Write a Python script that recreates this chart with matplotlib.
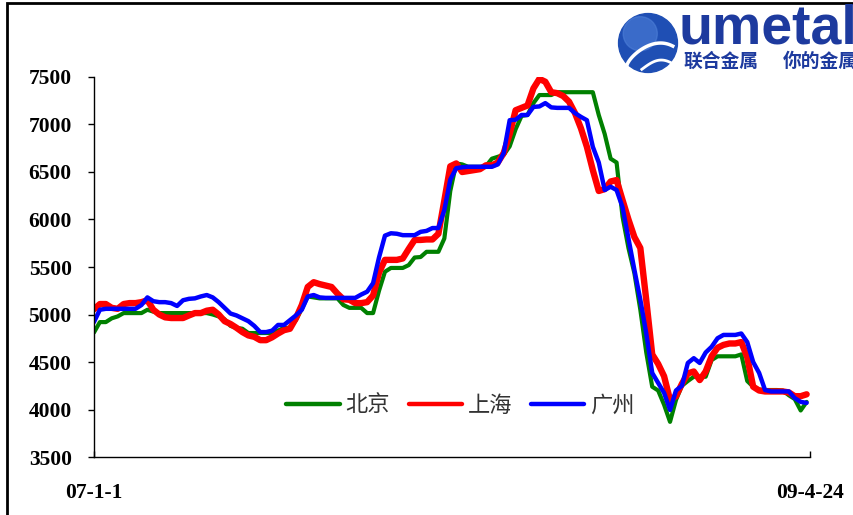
import numpy as np
import pandas as pd
import matplotlib
matplotlib.use("Agg")
import matplotlib.pyplot as plt
from matplotlib.patches import Rectangle, Circle

# weekly closing prices, 2007-01-01 .. 2009-04-20
beijing = [4810, 4920, 4920, 4960, 4980, 5015, 5015, 5015, 5015, 5050,
           5030, 5015, 5015, 5015, 5015, 5015, 5015, 5015, 5015, 5015,
           5000, 4980, 4950, 4880, 4860, 4850, 4805, 4805, 4805, 4805,
           4805, 4830, 4860, 4860, 4940, 5060, 5190, 5180, 5170, 5170,
           5170, 5170, 5100, 5070, 5070, 5070, 5015, 5015, 5250, 5450,
           5490, 5490, 5490, 5520, 5600, 5605, 5660, 5660, 5660, 5800,
           6300, 6590, 6580, 6555, 6555, 6555, 6560, 6640, 6660, 6680,
           6770, 6950, 7090, 7100, 7225, 7310, 7310, 7310, 7340, 7340,
           7340, 7340, 7340, 7340, 7340, 7100, 6900, 6640, 6600, 6030,
           5700, 5435, 5050, 4600, 4240, 4200, 4050, 3870, 4100, 4250,
           4300, 4345, 4345, 4345, 4520, 4560, 4560, 4560, 4560, 4580,
           4300, 4240, 4210, 4205, 4205, 4205, 4200, 4150, 4110, 3990,
           4080]
shanghai = [5055, 5110, 5110, 5070, 5060, 5110, 5120, 5120, 5130, 5150,
            5050, 5000, 4970, 4963, 4963, 4963, 4990, 5015, 5015, 5040,
            5050, 5000, 4930, 4900, 4860, 4815, 4780, 4765, 4730, 4730,
            4760, 4800, 4835, 4850, 4960, 5100, 5290, 5340, 5320, 5305,
            5290, 5220, 5160, 5155, 5120, 5120, 5130, 5200, 5440, 5575,
            5575, 5575, 5590, 5690, 5785, 5785, 5790, 5790, 5850, 6200,
            6560, 6590, 6500, 6510, 6520, 6530, 6570, 6570, 6600, 6700,
            6900, 7150, 7175, 7200, 7380, 7480, 7450, 7340, 7330, 7300,
            7240, 7120, 6960, 6765, 6520, 6300, 6320, 6400, 6415, 6205,
            6000, 5815, 5700, 5150, 4580, 4480, 4350, 4100, 4140, 4270,
            4380, 4400, 4310, 4400, 4560, 4650, 4680, 4695, 4695, 4710,
            4550, 4240, 4200, 4190, 4190, 4190, 4190, 4180, 4140, 4140,
            4160]
guangzhou = [4920, 5050, 5060, 5060, 5060, 5060, 5060, 5060, 5100, 5180,
             5140, 5130, 5130, 5120, 5090, 5150, 5165, 5170, 5190, 5205,
             5180, 5130, 5070, 5010, 4990, 4960, 4930, 4880, 4815, 4815,
             4830, 4890, 4890, 4940, 4990, 5050, 5190, 5205, 5180, 5175,
             5175, 5175, 5175, 5175, 5175, 5210, 5240, 5330, 5600, 5830,
             5855, 5850, 5835, 5835, 5835, 5870, 5880, 5910, 5910, 6100,
             6420, 6540, 6550, 6555, 6555, 6555, 6555, 6555, 6580, 6700,
             7045, 7050, 7100, 7100, 7185, 7190, 7225, 7180, 7175, 7175,
             7175, 7120, 7080, 7045, 6765, 6600, 6310, 6345, 6310, 6130,
             5800, 5470, 5155, 4800, 4385, 4280, 4175, 3995, 4200, 4250,
             4490, 4540, 4490, 4600, 4660, 4750, 4785, 4785, 4785, 4800,
             4710, 4500, 4385, 4205, 4190, 4190, 4190, 4190, 4120, 4080,
             4070]

dates = pd.date_range("2007-01-01", periods=len(beijing), freq="7D")
start, end = pd.Timestamp("2007-01-01"), pd.Timestamp("2009-04-24")
yticks = [3500, 4000, 4500, 5000, 5500, 6000, 6500, 7000, 7500]
xtick_labels = ["07-1-1", "09-4-24"]

plt.rcParams["font.family"] = ["Noto Sans CJK SC", "DejaVu Sans"]

fig = plt.figure(figsize=(8.54, 5.15), dpi=100)
ax = fig.add_axes([0.110, 0.1126, 0.8385, 0.7379])

ax.plot(dates, beijing, color="#008000", lw=3.0, label="北京", solid_capstyle="round")
ax.plot(dates, shanghai, color="#ff0000", lw=4.6, label="上海", solid_capstyle="round")
ax.plot(dates, guangzhou, color="#0000ff", lw=3.2, label="广州", solid_capstyle="round")

ax.set_xlim(start, end)
ax.set_ylim(3500, 7500)
ax.set_yticks(yticks)
ax.set_xticks([start, end])
ax.set_xticklabels(xtick_labels)
for lab in ax.get_xticklabels() + ax.get_yticklabels():
    lab.set_fontfamily("Liberation Serif")
    lab.set_fontweight("bold")
    lab.set_fontsize(15.5)
ax.tick_params(axis="y", direction="out", length=4, width=1, pad=12)
ax.tick_params(axis="x", direction="in", length=4, width=1, pad=19)
for side in ("top", "right"):
    ax.spines[side].set_visible(False)
for side in ("left", "bottom"):
    ax.spines[side].set_linewidth(1.0)

leg = fig.legend(loc="center", bbox_to_anchor=(0.539, 0.2136), ncol=3,
                 frameon=False, fontsize=16, handlelength=2.4,
                 handletextpad=0.25, columnspacing=0.85)
for line in leg.get_lines():
    line.set_linewidth(3.2)
for t in leg.get_texts():
    t.set_color("#333333")

# outer frame
fig.patches.append(Rectangle((7 / 854, -0.05), 1.2, 1 - 3 / 515 + 0.05,
                             transform=fig.transFigure, fill=False,
                             edgecolor="black", lw=2.0))

# umetal logo
logo = fig.add_axes([615 / 854, 1 - 74 / 515, 66 / 854, 62 / 515])
logo.set_xlim(-1, 1)
logo.set_ylim(-1, 1)
logo.set_aspect("equal")
logo.axis("off")
logo.add_patch(Circle((0, 0), 0.95, color="#1f4fb4"))
logo.add_patch(Circle((-0.25, 0.3), 0.55, color="#4d7fd8", alpha=0.6))
tt = np.linspace(0, 1, 50)
logo.plot(-0.7 + 1.5 * tt, -0.8 + 1.2 * tt ** 0.6 - 0.5 * tt ** 3,
          color="white", lw=2.5)
logo.plot(-0.2 + 1.2 * tt, -0.85 + 0.3 * np.sin(3 * tt), color="white", lw=2)

fig.text(679 / 854, 1 - 43 / 515, "umetal", fontsize=40, fontweight="bold",
         color="#1d3a9e", family="Liberation Sans", va="baseline", ha="left")
fig.text(683 / 854, 1 - 61 / 515, "联合金属", fontsize=13.5,
         fontweight="bold", color="#1d3a9e", va="center", ha="left")
fig.text(783 / 854, 1 - 61 / 515, "你的金属", fontsize=13.5,
         fontweight="bold", color="#1d3a9e", va="center", ha="left")

fig.savefig("out.png", dpi=100, facecolor="white")
